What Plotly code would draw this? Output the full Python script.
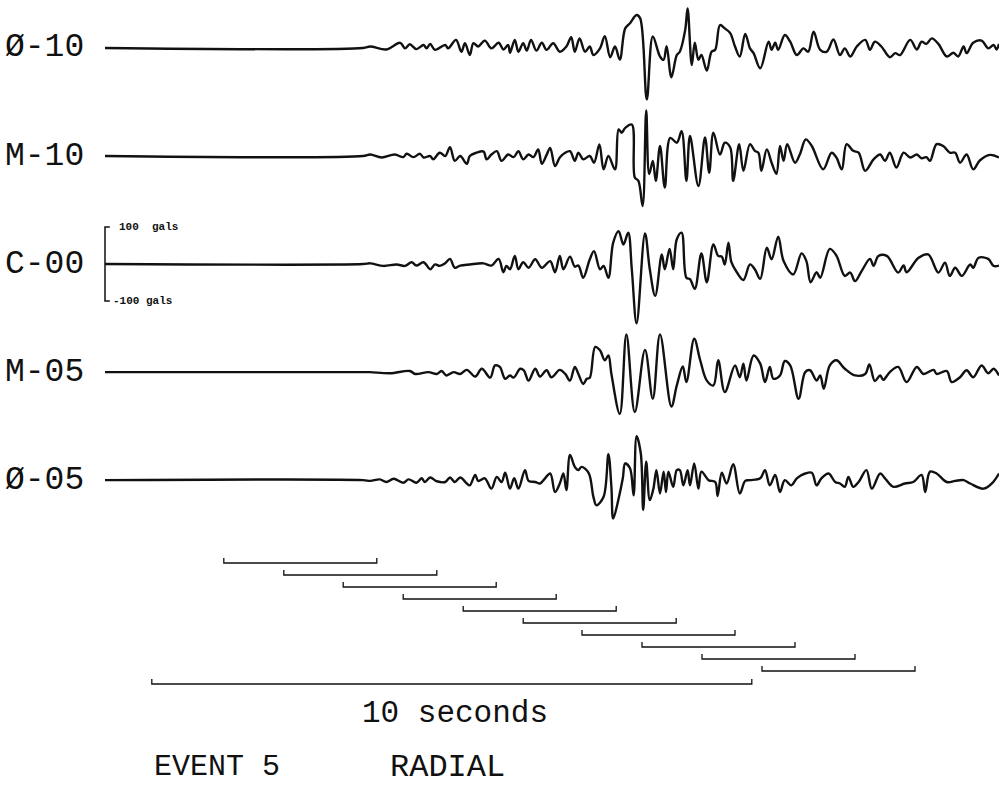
import plotly.graph_objects as go

# ---------------- data (time in s, acceleration in gals) ----------------
station_labels = ["Ø-10", "M-10", "C-00", "M-05", "Ø-05"]

t_o10 = [0, 4.30, 4.42, 4.69, 4.92, 5.00, 5.08, 5.19, 5.31, 5.36, 5.42,
         5.50, 5.67, 5.72, 5.85, 5.94, 6.00, 6.08, 6.14, 6.22, 6.33,
         6.44, 6.56, 6.64, 6.72, 6.75, 6.83, 6.89, 6.97, 7.03, 7.10,
         7.19, 7.28, 7.36, 7.47, 7.58, 7.69, 7.77, 7.83, 7.91, 8.00,
         8.08, 8.14, 8.25, 8.33, 8.42, 8.50, 8.58, 8.67, 8.75, 8.86,
         8.92, 9.03, 9.13, 9.25, 9.31, 9.36, 9.44, 9.53, 9.58, 9.67,
         9.71, 9.78, 9.83, 9.89, 9.94, 10.03, 10.11, 10.17, 10.25, 10.33,
         10.42, 10.50, 10.58, 10.67, 10.75, 10.81, 10.92, 11.06, 11.11, 11.17,
         11.22, 11.33, 11.42, 11.53, 11.64, 11.72, 11.81, 11.92, 12.03, 12.14,
         12.25, 12.33, 12.42, 12.53, 12.67, 12.75, 12.83, 12.94, 13.08, 13.17,
         13.25, 13.42, 13.53, 13.61, 13.69, 13.78, 13.89, 14.03, 14.14, 14.22,
         14.31, 14.36, 14.47, 14.61, 14.72, 14.81, 14.86, 14.90]
a_o10 = [0, 0, 4, -4, 14, -1, 10, -3, 8, -1, 11,
         -5, 8, -1, 22, -10, 13, -19, 13, 4, 20,
         -1, 14, -4, 8, -13, 22, -10, 13, -7, 22,
         -7, 14, -5, 13, -10, 4, 29, -10, 26, -10,
         4, -19, -1, 32, -25, 4, -31, 53, 67, 89,
         80, -139, 31, -23, -32, 5, -79, -19, -10, 49,
         107, -46, 14, -32, -19, -61, -10, -5, 62, 53,
         40, 4, -23, 38, -1, -14, -55, 17, -5, 14,
         -5, 35, 17, -19, -1, -10, 44, -5, -10, 23,
         -19, -1, -23, 4, 22, -5, 17, 4, -25, -14,
         -19, 22, -4, 17, 11, 26, 11, -23, -13, -23,
         4, -14, 14, 20, -1, 8, -4, 11]

t_m10 = [0, 4.30, 4.42, 4.61, 4.83, 4.97, 5.03, 5.14, 5.25, 5.31, 5.42,
         5.47, 5.58, 5.67, 5.75, 5.83, 5.92, 6.03, 6.08, 6.19, 6.31,
         6.36, 6.44, 6.53, 6.61, 6.72, 6.81, 6.89, 6.97, 7.06, 7.14,
         7.22, 7.28, 7.36, 7.42, 7.50, 7.58, 7.67, 7.75, 7.83, 7.89,
         7.97, 8.08, 8.15, 8.24, 8.31, 8.39, 8.50, 8.56, 8.61, 8.67,
         8.78, 8.83, 8.89, 8.96, 9.02, 9.07, 9.13, 9.18, 9.25, 9.33,
         9.42, 9.53, 9.61, 9.69, 9.75, 9.89, 10.00, 10.07, 10.14, 10.25,
         10.33, 10.42, 10.47, 10.57, 10.64, 10.75, 10.83, 10.89, 10.94, 11.03,
         11.11, 11.19, 11.25, 11.31, 11.37, 11.50, 11.58, 11.68, 11.78, 11.97,
         12.11, 12.19, 12.28, 12.36, 12.47, 12.56, 12.67, 12.81, 12.92, 13.00,
         13.08, 13.19, 13.31, 13.42, 13.53, 13.61, 13.69, 13.75, 13.86, 13.97,
         14.08, 14.17, 14.25, 14.36, 14.47, 14.58, 14.75, 14.90]
a_m10 = [0, 0, 4, -4, 4, -3, 6, -3, 6, -4, 0,
         -9, 9, 0, 24, -13, 0, -21, 0, 9, 12,
         -9, 4, 13, -13, 4, -3, 13, -9, 4, -3,
         18, -21, 3, 22, -27, -4, 9, 13, -13, 9,
         -9, 0, -18, 31, -36, 0, -36, 72, 63, 76,
         85, -58, -67, -135, 123, -49, -13, -67, 27, -85,
         49, 36, 67, -67, 54, -81, 50, -45, 63, 4,
         36, 23, -67, 32, -40, 32, 14, 9, -40, 18,
         -18, -48, 27, -13, 32, -18, 4, 45, 27, -36,
         9, -4, -36, 32, 14, 9, -40, -9, 4, -13,
         9, -31, 9, -4, 4, -6, -3, -13, 32, 27,
         9, 9, -18, 4, -36, -12, 3, -4]

t_c00 = [0, 4.30, 4.42, 4.64, 4.86, 5.00, 5.11, 5.19, 5.31, 5.42, 5.50,
         5.58, 5.67, 5.75, 5.83, 5.92, 6.08, 6.31, 6.44, 6.56, 6.64,
         6.69, 6.75, 6.83, 6.89, 6.97, 7.06, 7.17, 7.28, 7.42, 7.50,
         7.58, 7.64, 7.75, 7.83, 7.89, 7.97, 8.08, 8.15, 8.25, 8.31,
         8.39, 8.47, 8.56, 8.64, 8.72, 8.78, 8.86, 9.00, 9.08, 9.17,
         9.28, 9.33, 9.41, 9.47, 9.53, 9.61, 9.69, 9.75, 9.83, 9.94,
         10.03, 10.14, 10.22, 10.28, 10.33, 10.39, 10.44, 10.53, 10.64, 10.75,
         10.83, 10.92, 11.03, 11.11, 11.22, 11.31, 11.47, 11.61, 11.69, 11.76,
         11.86, 11.92, 12.08, 12.19, 12.33, 12.42, 12.50, 12.61, 12.75, 12.81,
         12.89, 13.03, 13.22, 13.31, 13.36, 13.56, 13.72, 13.89, 14.00, 14.08,
         14.17, 14.28, 14.42, 14.47, 14.56, 14.72, 14.81, 14.90]
a_c00 = [0, 0, 2, -5, -1, -5, 5, -4, 5, -14, -1,
         -5, 2, 14, -10, -4, -1, 2, -4, 14, -22,
         -5, -14, 22, -14, 5, -10, 13, -10, 8, -22,
         22, -14, 20, -7, -4, -37, 13, 35, -14, -5,
         -37, 58, 89, 53, 85, -14, -160, 83, -14, -86,
         26, -14, 41, -14, 67, 85, -37, -41, -67, 29,
         -49, 53, 22, 20, -1, 58, 5, -22, -43, -1,
         -14, -40, 44, 13, 74, 8, -28, 29, 8, -49,
         -22, -37, 41, 23, -32, -23, -46, -19, 14, -5,
         22, 22, -23, -4, -22, 17, 26, -23, 4, -32,
         -10, -32, -1, -10, 17, 14, -5, -4]

t_m05 = [0, 4.30, 4.42, 4.75, 5.08, 5.17, 5.39, 5.53, 5.61, 5.69, 5.81,
         5.92, 6.03, 6.17, 6.28, 6.42, 6.50, 6.58, 6.67, 6.75, 6.81,
         6.92, 6.98, 7.06, 7.17, 7.25, 7.36, 7.44, 7.58, 7.67, 7.75,
         7.83, 7.89, 7.97, 8.03, 8.08, 8.17, 8.25, 8.33, 8.39, 8.44,
         8.58, 8.69, 8.83, 9.00, 9.13, 9.25, 9.44, 9.53, 9.63, 9.69,
         9.82, 9.92, 10.03, 10.14, 10.22, 10.33, 10.50, 10.58, 10.64, 10.69,
         10.81, 10.92, 11.00, 11.08, 11.14, 11.25, 11.33, 11.42, 11.56, 11.67,
         11.75, 11.86, 11.92, 11.98, 12.08, 12.19, 12.33, 12.50, 12.67, 12.74,
         12.83, 12.92, 12.97, 13.08, 13.22, 13.36, 13.53, 13.64, 13.81, 13.86,
         14.03, 14.11, 14.25, 14.36, 14.47, 14.61, 14.72, 14.81, 14.90]
a_m05 = [0, 0, 0, -3, 3, -5, 0, -5, 3, -9, 0,
         -5, 6, -12, 9, -15, 18, 14, -18, -9, -15,
         9, 5, -23, 9, -12, 5, -14, 6, -5, -23,
         14, -5, -32, -18, -15, 68, 59, 32, 45, -5,
         -113, 102, -108, 60, -72, 102, -93, -36, 15, -27,
         90, 32, -23, -36, 32, -54, 18, -14, 23, -23,
         45, 23, -27, 14, -18, -9, 30, 18, -72, 0,
         5, -23, -9, -45, 18, 32, 9, -9, -5, 21,
         -24, -9, -21, 0, 14, -27, 14, -5, 6, -5,
         3, -27, -14, 5, -14, 18, -3, 9, -9]

t_o05 = [0, 4.30, 4.42, 4.58, 4.69, 4.81, 4.97, 5.06, 5.19, 5.28, 5.33,
         5.42, 5.53, 5.67, 5.75, 5.83, 5.92, 6.03, 6.08, 6.17, 6.22,
         6.33, 6.44, 6.53, 6.61, 6.67, 6.75, 6.82, 6.89, 7.00, 7.06,
         7.17, 7.25, 7.31, 7.42, 7.50, 7.58, 7.64, 7.69, 7.75, 7.83,
         7.89, 7.94, 8.06, 8.14, 8.19, 8.31, 8.39, 8.44, 8.47, 8.56,
         8.63, 8.67, 8.75, 8.81, 8.86, 8.93, 8.97, 9.02, 9.08, 9.14,
         9.19, 9.25, 9.31, 9.35, 9.39, 9.47, 9.53, 9.58, 9.64, 9.71,
         9.75, 9.82, 9.89, 9.94, 10.06, 10.17, 10.21, 10.28, 10.36, 10.47,
         10.58, 10.67, 10.75, 10.92, 11.00, 11.08, 11.17, 11.25, 11.33, 11.44,
         11.53, 11.67, 11.78, 11.86, 11.94, 12.06, 12.17, 12.25, 12.33, 12.39,
         12.47, 12.56, 12.69, 12.78, 12.92, 13.00, 13.14, 13.33, 13.47, 13.61,
         13.67, 13.75, 13.86, 14.03, 14.17, 14.31, 14.42, 14.64, 14.78, 14.90]
a_o05 = [0, 0, -2, 2, -5, 4, -7, 2, -7, 5, -5,
         7, -3, -5, 7, -5, 7, -9, -14, 14, -2,
         5, -23, 9, -5, 20, -23, 5, -23, 27, -2,
         -5, -9, 0, 18, -32, -9, 18, -27, 68, 36,
         27, 36, 20, -45, -68, -45, 70, -18, -104, -50,
         5, 45, 32, -41, 119, 72, -81, 50, -54, -23,
         27, -36, 23, -32, 23, -18, 27, 27, -14, 27,
         -14, 45, -23, 23, 0, -5, -43, 20, -9, 43,
         -36, -2, 0, 5, 27, -14, 14, -32, 0, -14,
         5, 18, 20, -14, 5, 18, -5, -9, -18, 9,
         -18, -5, 27, -23, 18, 5, -18, -9, -5, 14,
         -32, 23, 18, -5, -2, 0, -9, -23, -9, 18]

# analysis windows (start time, s) and their length; the 10 s time bar
window_starts = [1.98, 2.98, 3.97, 4.97, 5.97, 6.97, 7.95, 8.95, 9.95, 10.95]
window_length = 2.55
timebar_start = 0.78
timebar_length = 10.0
scale_gals = 100

series_t = [t_o10, t_m10, t_c00, t_m05, t_o05]
series_a = [a_o10, a_m10, a_c00, a_m05, a_o05]
for tt, aa in zip(series_t, series_a):
    assert len(tt) == len(aa), (len(tt), len(aa))

# ---------------- layout helpers ----------------
W, H = 999, 788
Y_TOP, Y_BOT = 129.7, -2000.0
GPP = (Y_TOP - Y_BOT) / H          # gals per pixel
SPACING = 292                       # gals between trace baselines


def ypix(p):
    return Y_TOP - p * GPP


INK = "#111111"
fig = go.Figure()

for k, (tt, aa) in enumerate(zip(series_t, series_a)):
    off = -SPACING * k
    fig.add_trace(go.Scatter(
        x=tt, y=[v + off for v in aa], mode="lines",
        line=dict(color=INK, width=2.4, shape="spline", smoothing=1.0),
        hoverinfo="skip", showlegend=False))

# scale bar on C-00 trace
c_off = -SPACING * 2
tick = 0.08
fig.add_trace(go.Scatter(
    x=[tick, 0, 0, tick], y=[c_off + scale_gals, c_off + scale_gals,
                             c_off - scale_gals, c_off - scale_gals],
    mode="lines", line=dict(color=INK, width=1.5), hoverinfo="skip", showlegend=False))

# window brackets
bx, by = [], []
th = 5 * GPP
for i, s in enumerate(window_starts):
    yb = ypix(563 + 12 * i)
    bx += [s, s, s + window_length, s + window_length, None]
    by += [yb + th, yb, yb, yb + th, None]
yb = ypix(684)
bx += [timebar_start, timebar_start, timebar_start + timebar_length,
       timebar_start + timebar_length]
by += [yb + th, yb, yb, yb + th]
fig.add_trace(go.Scatter(x=bx, y=by, mode="lines",
                         line=dict(color=INK, width=1.3),
                         hoverinfo="skip", showlegend=False))

FONT = "Liberation Mono"
ann = []
for k, name in enumerate(station_labels):
    ann.append(dict(x=3 / W, xref="paper", y=-SPACING * k, yref="y",
                    text=name, showarrow=False, xanchor="left", yanchor="middle",
                    font=dict(family=FONT, size=33, color=INK)))
ann.append(dict(x=0.2, xref="x", y=c_off + scale_gals, yref="y",
                text="100  gals", showarrow=False, xanchor="left", yanchor="middle",
                font=dict(family=FONT, size=11, color=INK, weight="bold")))
ann.append(dict(x=0.1, xref="x", y=c_off - scale_gals, yref="y",
                text="-100 gals", showarrow=False, xanchor="left", yanchor="middle",
                font=dict(family=FONT, size=11, color=INK, weight="bold")))
ann.append(dict(x=timebar_start + timebar_length / 2 + 0.06, xref="x",
                y=1 - 713 / H, yref="paper", text="10 seconds", showarrow=False,
                xanchor="center", yanchor="middle",
                font=dict(family=FONT, size=31, color=INK)))
ann.append(dict(x=timebar_start, xref="x", y=1 - 767 / H, yref="paper",
                text="EVENT 5", showarrow=False, xanchor="left", yanchor="middle",
                font=dict(family=FONT, size=30, color=INK)))
ann.append(dict(x=4.72, xref="x", y=1 - 767 / H, yref="paper",
                text="RADIAL", showarrow=False, xanchor="left", yanchor="middle",
                font=dict(family=FONT, size=32, color=INK)))

fig.update_layout(
    width=W, height=H, margin=dict(l=0, r=0, t=0, b=0),
    paper_bgcolor="white", plot_bgcolor="white", showlegend=False,
    xaxis=dict(range=[-1.75, 14.9], visible=False, fixedrange=True),
    yaxis=dict(range=[Y_BOT, Y_TOP], visible=False, fixedrange=True),
    annotations=ann,
)

fig.write_html(
    "out.html",
    config={"displayModeBar": False},
    post_script="document.body.style.margin='0px';document.body.style.overflow='hidden';",
)
